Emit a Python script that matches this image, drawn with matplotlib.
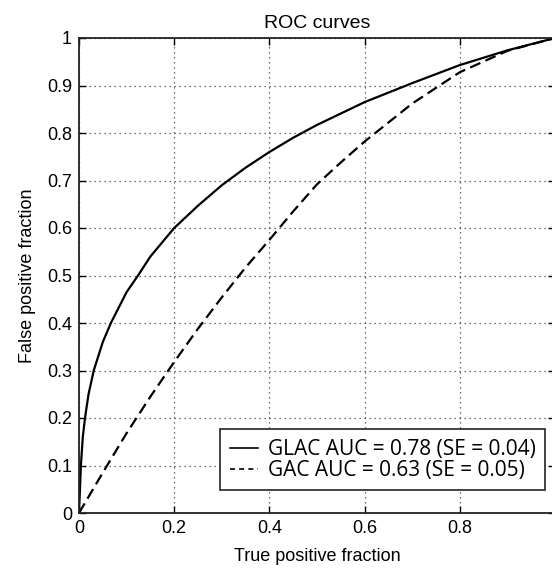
import matplotlib
matplotlib.use("Agg")
import matplotlib.pyplot as plt

# GLAC ROC curve (solid)
glac_x = [0.0, 0.002, 0.004, 0.008, 0.0126, 0.02, 0.031, 0.05, 0.067, 0.1, 0.124, 0.15,
          0.2, 0.25, 0.3, 0.35, 0.4, 0.45, 0.5, 0.6, 0.7, 0.8, 0.9, 1.0]
glac_y = [0.0, 0.05, 0.1, 0.16, 0.2, 0.25, 0.3, 0.36, 0.4, 0.465, 0.5, 0.54,
          0.6, 0.647, 0.69, 0.727, 0.76, 0.79, 0.817, 0.865, 0.905, 0.943, 0.974, 1.0]

# GAC ROC curve (dashed)
gac_x = [0.0, 0.05, 0.1, 0.15, 0.2, 0.25, 0.3, 0.35, 0.4, 0.45, 0.5, 0.55, 0.6,
         0.7, 0.8, 0.9, 1.0]
gac_y = [0.0, 0.085, 0.168, 0.245, 0.318, 0.388, 0.454, 0.517, 0.575, 0.635, 0.692,
         0.738, 0.782, 0.862, 0.928, 0.973, 1.0]

labels = ["GLAC AUC = 0.78 (SE = 0.04)", "GAC AUC = 0.63 (SE = 0.05)"]
x_ticks = [0, 0.2, 0.4, 0.6, 0.8, 1.0]
x_tick_labels = ["0", "0.2", "0.4", "0.6", "0.8", ""]
y_ticks = [0, 0.1, 0.2, 0.3, 0.4, 0.5, 0.6, 0.7, 0.8, 0.9, 1.0]
y_tick_labels = ["0", "0.1", "0.2", "0.3", "0.4", "0.5", "0.6", "0.7", "0.8", "0.9", "1"]

plt.rcParams["font.family"] = ["Liberation Sans", "DejaVu Sans"]

fig = plt.figure(figsize=(5.52, 5.70), dpi=100)
ax = fig.add_axes([79 / 552, 1 - 513 / 570, 476 / 552, 475 / 570])

ax.plot(glac_x, glac_y, color="black", lw=1.6, ls="-", label=labels[0])
ax.plot(gac_x, gac_y, color="black", lw=1.6, ls=(0, (5, 2.5)), label=labels[1])

ax.set_xlim(0, 1)
ax.set_ylim(0, 1)
ax.set_xticks(x_ticks)
ax.set_xticklabels(x_tick_labels)
ax.set_yticks(y_ticks)
ax.set_yticklabels(y_tick_labels)
ax.tick_params(direction="in", length=5, width=1, labelsize=13, top=True, right=True,
               colors="black", pad=5)
ax.grid(True, ls=(0, (1, 3)), color="#444444", lw=0.9)
for s in ax.spines.values():
    s.set_linewidth(1.3)
    s.set_color("#222222")

ax.set_title("ROC curves", fontsize=14, pad=7)
ax.set_xlabel("True positive fraction", fontsize=13, labelpad=8)
ax.set_ylabel("False positive fraction", fontsize=13, labelpad=8)

leg = ax.legend(loc="lower right", bbox_to_anchor=(0.979, 0.048), borderaxespad=0,
                prop={"family": ["Open Sans", "DejaVu Sans"], "size": 15},
                handlelength=1.35, handletextpad=0.48, borderpad=0.45, labelspacing=0.0,
                fancybox=False, edgecolor="#222222", framealpha=1)
leg.get_frame().set_linewidth(1.2)
for h in leg.get_lines():
    h.set_linewidth(1.2)
leg.get_lines()[1].set_linestyle((0, (3, 2.5)))

fig.savefig("out.png", dpi=100)
